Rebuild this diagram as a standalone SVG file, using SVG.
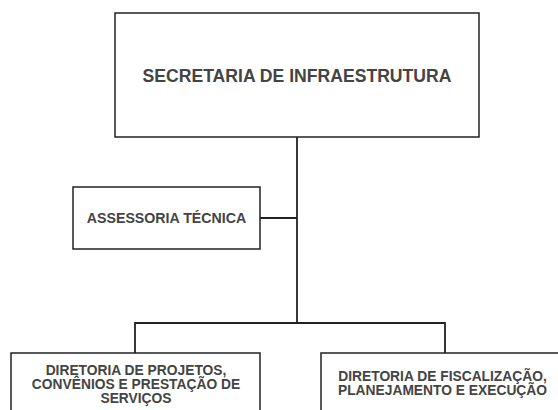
<svg xmlns="http://www.w3.org/2000/svg" width="558" height="410" viewBox="0 0 558 410">
<style>
.box{fill:#fff;stroke:#222;stroke-width:1.5}
.t{font-family:"Liberation Sans",Arial,sans-serif;font-weight:bold;fill:#444;text-anchor:middle}
.c{fill:none;stroke:#222;stroke-width:1.8}
</style>
<rect width="558" height="410" fill="#fff"/>
<g id="connectors">
<path class="c" d="M297,137V323"/>
<path class="c" d="M135,353V323H445V353"/>
<path class="c" d="M260,218H297"/>
</g>
<g id="secretaria">
<rect class="box" x="115" y="13" width="364" height="124"/>
<text class="t" x="297" y="82" font-size="17.6">SECRETARIA DE INFRAESTRUTURA</text>
</g>
<g id="assessoria">
<rect class="box" x="73" y="187" width="187" height="62"/>
<text class="t" x="166.5" y="222.5" font-size="14.2">ASSESSORIA TÉCNICA</text>
</g>
<g id="diretoria-projetos">
<rect class="box" x="11" y="353" width="249" height="70"/>
<text class="t" font-size="13.8"><tspan x="136" y="374.5">DIRETORIA DE PROJETOS,</tspan><tspan x="136" y="388.5">CONVÊNIOS E PRESTAÇÃO DE</tspan><tspan x="136" y="402.5">SERVIÇOS</tspan></text>
</g>
<g id="diretoria-fiscalizacao">
<rect class="box" x="321" y="353" width="250" height="70"/>
<text class="t" font-size="13.8"><tspan x="442.5" y="381">DIRETORIA DE FISCALIZAÇÃO,</tspan><tspan x="442.5" y="395">PLANEJAMENTO E EXECUÇÃO</tspan></text>
</g>
</svg>
